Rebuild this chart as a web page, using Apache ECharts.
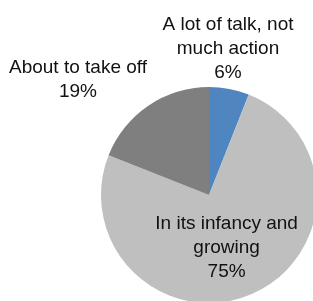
<!DOCTYPE html>
<html>
<head>
<meta charset="utf-8">
<script src="https://cdn.jsdelivr.net/npm/echarts@6/dist/echarts.min.js"></script>
<style>
  html, body { margin: 0; padding: 0; background: #fff; }
  #chart { width: 313px; height: 301px; }
</style>
</head>
<body>
<div id="chart"></div>
<script>
// data
var categories = ['A lot of talk, not\nmuch action', 'In its infancy and\ngrowing', 'About to take off'];
var shares = [6, 75, 19];
var colors = ['#4F86C0', '#BFBFBF', '#7F7F7F'];

var showPie = {
    chart: null,
    init: function (id) {
        this.chart = echarts.init(document.getElementById(id));
        return this.chart;
    },
    getOption: function () {
        var data = [];
        for (var i = 0; i < categories.length; i++) {
            data.push({
                name: categories[i],
                value: shares[i],
                itemStyle: { color: colors[i] },
                label: { position: i === 1 ? 'inside' : 'outside' }
            });
        }
        return {
            animation: false,
            series: [{
                type: 'pie',
                center: [209, 195],
                radius: 108,
                startAngle: 90,
                clockwise: true,
                avoidLabelOverlap: false,
                labelLine: { show: false },
                label: {
                    formatter: '{b}\n{c}%',
                    fontFamily: '"Liberation Sans", Arial, sans-serif',
                    fontSize: 19,
                    lineHeight: 24,
                    color: '#111',
                    align: 'center'
                },
                // outside labels sit above the pie like the original
                labelLayout: function (p) {
                    if (p.dataIndex === 0) return { x: 228, y: 49, align: 'center', verticalAlign: 'middle' };
                    if (p.dataIndex === 2) return { x: 78, y: 80, align: 'center', verticalAlign: 'middle' };
                    return { dx: -5 };
                },
                data: data
            }]
        };
    }
};

showPie.init('chart').setOption(showPie.getOption());
</script>
</body>
</html>
